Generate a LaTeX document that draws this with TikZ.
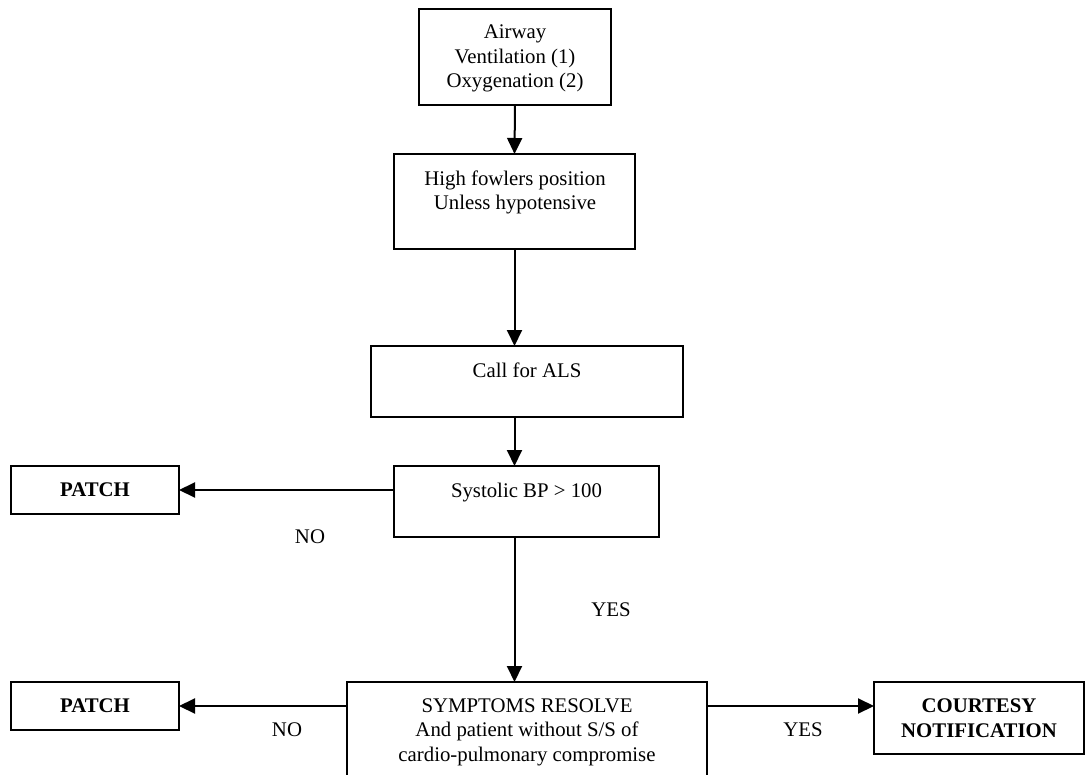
\documentclass[tikz,border=0pt]{standalone}
\usepackage{fontspec}
\setmainfont{Liberation Serif}
\usetikzlibrary{arrows.meta}
\begin{document}
\begin{tikzpicture}[x=1pt,y=-1pt,
  every node/.style={font=\fontsize{20.8}{24.5}\selectfont},
  box/.style={draw, line width=2.2pt, inner sep=0pt, outer sep=0pt},
  outcome/.style={box, align=center, font=\fontsize{20.8}{24.5}\selectfont\bfseries},
  txt/.style={anchor=base, align=center, inner sep=0pt},
  flow/.style={line width=2pt, -{Triangle[width=15pt,length=16pt]}}]
  \clip (0,0) rectangle (1086,775);
  \fill[white] (0,0) rectangle (1086,775);

  % process boxes
  \node[box, minimum width=192pt, minimum height=96pt]  (airway) at (515,57)      {};
  \node[box, minimum width=241pt, minimum height=95pt]  (hf)     at (514.5,201.5) {};
  \node[box, minimum width=312pt, minimum height=71pt]  (call)   at (527,381.5)   {};
  \node[box, minimum width=265pt, minimum height=71pt]  (sys)    at (526.5,501.5) {};
  \node[box, minimum width=360pt, minimum height=118pt] (sym)    at (527,741)     {};

  % outcome boxes
  \node[outcome, minimum width=168pt, minimum height=48pt] (patchA) at (95,490)  {PATCH};
  \node[outcome, minimum width=168pt, minimum height=48pt] (patchB) at (95,706)  {PATCH};
  \node[outcome, minimum width=210pt, minimum height=72pt] (court)  at (979,718) {COURTESY\\NOTIFICATION};

  % box texts (anchored on the baseline of their last line)
  \node[txt] (airwayT) at (515,88)    {Airway\\Ventilation (1)\\Oxygenation (2)};
  \node[txt] (hfT)     at (515,210)   {High fowlers position\\Unless hypotensive};
  \node[txt] (callT)   at (527,377)   {Call for ALS};
  \node[txt] (sysT)    at (526.5,497) {Systolic BP > 100};
  \node[txt] (symT)    at (527,761)   {SYMPTOMS RESOLVE\\And patient without S/S of\\cardio-pulmonary compromise};

  % branch labels
  \node[txt] (noA)  at (310,543) {NO};
  \node[txt] (noB)  at (287,736) {NO};
  \node[txt] (yesA) at (611,616) {YES};
  \node[txt] (yesB) at (803,736) {YES};

  % connectors
  \draw[flow] (airway.south) -- (hf.north);
  \draw[flow] (hf.south) -- (hf.south |- call.north);
  \draw[flow] (hf.south |- call.south) -- (hf.south |- sys.north);
  \draw[flow] (hf.south |- sys.south) -- (hf.south |- sym.north);
  \draw[flow] (sys.west |- patchA.east) -- (patchA.east);
  \draw[flow] (sym.west |- patchB.east) -- (patchB.east);
  \draw[flow] (sym.east |- patchB.east) -- (court.west |- patchB.east);
\end{tikzpicture}
\end{document}
